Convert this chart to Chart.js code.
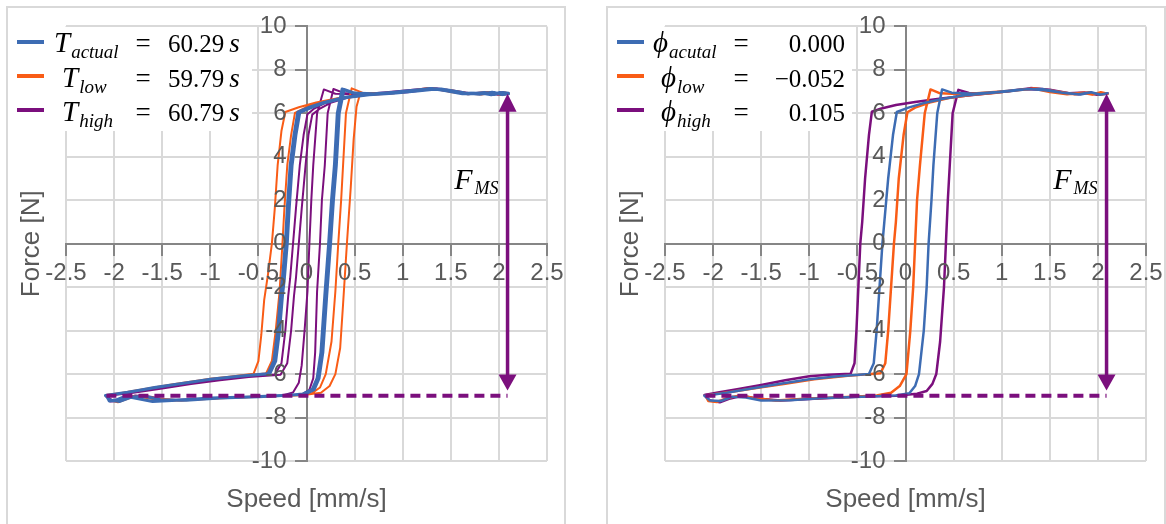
<!DOCTYPE html>
<html>
<head>
<meta charset="utf-8">
<script src="https://cdn.jsdelivr.net/npm/chart.js@4.4.1/dist/chart.umd.min.js"></script>
<style>
  body { margin: 0; background: #fff; }
  .panel { position: absolute; top: 6px; width: 556px; height: 540px; border: 2px solid #d9d9d9; }
  canvas { position: absolute; top: 3px; }
</style>
</head>
<body>
<div class="panel" style="left:6px"></div>
<div class="panel" style="left:606px"></div>
<canvas id="periodChart" width="562" height="521" style="left:8px"></canvas>
<canvas id="phaseChart" width="562" height="521" style="left:607px"></canvas>
<script>
const speedTicks = [-2.5, -2, -1.5, -1, -0.5, 0, 0.5, 1, 1.5, 2, 2.5];
const forceTicks = [-10, -8, -6, -4, -2, 0, 2, 4, 6, 8, 10];
const seriesColors = ['#3d6cb3', '#f95c16', '#7b0f7d'];

const periodSubs = ['actual', 'low', 'high'];
const periodValues = ['60.29', '59.79', '60.79'];
const phaseSubs = ['acutal', 'low', 'high'];
const phaseValues = ['0.000', '\u22120.052', '0.105'];

// F_MS marker and the dashed floor line
const fmsSpeed = 2.09;
const fmsTop = 6.9;
const fmsBottom = -6.75;
const fmsLabelForce = 2.5;
const floorSpeed = [-2.08, 2.09];
const floorForce = [-7.0, -7.0];

// [speed, force] - period sweep, two cycles per curve
const periodActual = [
  [2.10,6.90],[2.01,6.96],[1.92,6.85],[1.80,6.94],[1.62,6.90],[1.45,7.04],[1.30,7.14],[1.10,7.04],[0.88,6.93],[0.62,6.86],
  [0.40,6.74],[0.18,6.50],[0.03,6.28],[-0.09,6.06],[-0.13,5.00],[-0.17,3.60],[-0.20,1.60],[-0.22,0.00],[-0.25,-1.60],[-0.27,-2.40],
  [-0.30,-4.00],[-0.34,-5.40],[-0.40,-5.98],[-0.70,-6.10],[-1.00,-6.24],[-1.30,-6.44],[-1.60,-6.64],[-1.86,-6.84],[-2.09,-6.98],
  [-2.04,-7.20],[-1.94,-7.26],[-1.82,-7.06],[-1.68,-7.02],[-1.52,-7.18],[-1.25,-7.20],[-0.90,-7.10],[-0.50,-7.04],[-0.20,-6.98],
  [-0.04,-6.92],[0.06,-6.70],[0.11,-6.20],[0.15,-5.00],[0.19,-2.40],[0.23,0.00],[0.26,2.00],[0.29,3.60],[0.32,6.00],[0.37,7.12],
  [0.48,6.94],[0.70,6.90],[0.95,6.98],[1.20,7.10],[1.40,7.12],[1.62,6.95],[1.80,6.88],[1.93,6.97],[2.03,6.87],[2.10,6.92],
  [2.04,6.96],[1.95,6.87],[1.85,6.96],[1.68,6.89],[1.50,7.00],[1.35,7.12],[1.15,7.03],[0.90,6.92],[0.65,6.85],[0.42,6.73],
  [0.20,6.50],[0.05,6.26],[-0.07,6.04],[-0.11,5.00],[-0.15,3.60],[-0.18,1.60],[-0.20,0.00],[-0.23,-1.60],[-0.25,-2.40],[-0.28,-4.00],
  [-0.32,-5.40],[-0.38,-5.97],[-0.68,-6.09],[-0.98,-6.23],[-1.28,-6.42],[-1.58,-6.62],[-1.85,-6.83],[-2.08,-6.99],[-2.05,-7.24],
  [-1.97,-7.18],[-1.88,-7.02],[-1.76,-7.12],[-1.60,-7.26],[-1.35,-7.20],[-1.00,-7.10],[-0.60,-7.05],[-0.25,-6.99],[-0.02,-6.93],
  [0.08,-6.72],[0.13,-6.20],[0.17,-5.00],[0.21,-2.40],[0.25,0.00],[0.28,2.00],[0.31,3.60],[0.34,6.00],[0.39,7.10],[0.50,6.93],
  [0.72,6.88],[0.98,7.00],[1.25,7.12],[1.45,7.08],[1.65,6.94],[1.82,6.90],[1.95,6.96],[2.04,6.86],[2.10,6.90]
];
const periodLow = [
  [2.10,6.92],[2.02,6.85],[1.93,6.97],[1.82,6.87],[1.65,6.93],[1.45,7.06],[1.28,7.12],[1.08,7.00],[0.85,6.90],[0.60,6.84],
  [0.35,6.72],[0.10,6.50],[-0.08,6.28],[-0.22,6.06],[-0.26,5.20],[-0.30,3.60],[-0.33,1.60],[-0.36,0.00],[-0.40,-1.40],[-0.44,-2.60],
  [-0.47,-4.20],[-0.50,-5.40],[-0.55,-5.98],[-0.80,-6.12],[-1.10,-6.28],[-1.40,-6.48],[-1.65,-6.66],[-1.88,-6.84],[-2.09,-7.00],
  [-2.03,-7.24],[-1.92,-7.22],[-1.80,-7.02],[-1.66,-7.10],[-1.48,-7.24],[-1.20,-7.18],[-0.85,-7.08],[-0.45,-7.03],[-0.05,-6.97],
  [0.15,-6.86],[0.24,-6.55],[0.30,-6.00],[0.35,-4.80],[0.38,-2.80],[0.42,0.00],[0.46,2.60],[0.49,4.80],[0.52,6.30],[0.56,6.95],
  [0.75,6.92],[1.00,6.98],[1.25,7.16],[1.50,7.06],[1.70,6.90],[1.88,6.98],[2.00,6.86],[2.10,6.92],
  [2.04,6.97],[1.95,6.86],[1.84,6.95],[1.68,6.88],[1.50,6.98],[1.33,7.14],[1.15,7.06],[0.90,6.94],[0.65,6.86],[0.40,6.72],
  [0.18,6.50],[0.00,6.28],[-0.12,6.02],[-0.16,5.00],[-0.20,3.60],[-0.23,1.60],[-0.25,0.00],[-0.28,-2.20],[-0.32,-4.00],[-0.36,-5.40],
  [-0.42,-5.97],[-0.70,-6.08],[-1.00,-6.22],[-1.30,-6.42],[-1.58,-6.62],[-1.85,-6.82],[-2.08,-6.96],[-2.05,-7.18],[-1.96,-7.30],
  [-1.84,-7.10],[-1.70,-6.98],[-1.55,-7.12],[-1.30,-7.22],[-0.95,-7.12],[-0.55,-7.05],[-0.15,-6.99],[0.05,-6.90],[0.14,-6.62],
  [0.20,-6.00],[0.26,-4.50],[0.30,-2.20],[0.33,0.00],[0.36,2.00],[0.38,3.60],[0.41,6.00],[0.47,7.15],[0.58,6.95],[0.80,6.90],
  [1.05,7.02],[1.35,7.12],[1.58,6.96],[1.78,6.88],[1.92,6.97],[2.02,6.86],[2.10,6.90]
];
const periodHigh = [
  [2.10,6.90],[2.02,6.84],[1.92,6.96],[1.80,6.90],[1.62,6.96],[1.42,7.10],[1.25,7.08],[1.05,6.97],[0.80,6.90],[0.55,6.82],
  [0.35,6.70],[0.18,6.45],[0.08,6.22],[0.01,5.96],[-0.03,5.00],[-0.07,3.60],[-0.11,1.60],[-0.14,0.00],[-0.17,-1.60],[-0.19,-2.40],
  [-0.22,-4.00],[-0.26,-5.50],[-0.33,-6.02],[-0.65,-6.12],[-0.95,-6.26],[-1.25,-6.45],[-1.55,-6.66],[-1.84,-6.86],[-2.08,-7.02],
  [-2.02,-7.20],[-1.90,-7.14],[-1.78,-6.98],[-1.62,-7.04],[-1.45,-7.20],[-1.15,-7.16],[-0.80,-7.08],[-0.45,-7.03],[-0.25,-6.98],
  [-0.14,-6.85],[-0.08,-6.40],[-0.05,-5.60],[-0.02,-4.00],[0.01,-2.20],[0.03,0.00],[0.05,2.00],[0.07,3.60],[0.11,6.00],[0.18,7.10],
  [0.30,6.90],[0.55,6.88],[0.80,6.96],[1.05,7.06],[1.30,7.16],[1.50,7.06],[1.70,6.92],[1.86,6.96],[1.98,6.86],[2.10,6.92],
  [2.03,6.97],[1.94,6.86],[1.83,6.95],[1.65,6.90],[1.48,7.02],[1.32,7.12],[1.12,7.02],[0.88,6.92],[0.62,6.84],[0.42,6.72],
  [0.25,6.48],[0.14,6.22],[0.06,5.94],[0.02,5.00],[-0.01,3.60],[-0.05,1.60],[-0.08,0.00],[-0.11,-1.60],[-0.13,-2.40],[-0.16,-4.00],
  [-0.20,-5.50],[-0.27,-6.03],[-0.60,-6.14],[-0.90,-6.28],[-1.20,-6.46],[-1.50,-6.66],[-1.80,-6.86],[-2.07,-7.00],[-2.04,-7.26],
  [-1.94,-7.24],[-1.83,-7.06],[-1.70,-7.00],[-1.55,-7.16],[-1.30,-7.20],[-0.95,-7.10],[-0.60,-7.05],[-0.25,-7.00],[-0.05,-6.94],
  [0.03,-6.72],[0.07,-6.20],[0.09,-5.00],[0.11,-2.20],[0.14,0.00],[0.16,2.00],[0.19,3.60],[0.22,6.00],[0.28,7.12],[0.40,6.92],
  [0.62,6.88],[0.88,6.98],[1.12,7.08],[1.36,7.14],[1.56,7.02],[1.74,6.90],[1.90,6.97],[2.02,6.87],[2.10,6.91]
];

// [speed, force] - phase sweep, one cycle per curve
const phaseActual = [
  [2.10,6.92],[2.02,6.85],[1.93,6.97],[1.82,6.87],[1.65,6.94],[1.45,7.06],[1.28,7.12],[1.08,7.02],[0.85,6.92],[0.60,6.82],
  [0.38,6.66],[0.18,6.46],[0.03,6.26],[-0.09,6.06],[-0.13,5.00],[-0.18,3.00],[-0.22,1.00],[-0.24,0.00],[-0.27,-2.00],[-0.30,-4.00],
  [-0.33,-5.50],[-0.38,-6.00],[-0.70,-6.10],[-1.00,-6.24],[-1.30,-6.44],[-1.60,-6.66],[-1.86,-6.86],[-2.09,-7.00],[-2.03,-7.22],
  [-1.92,-7.24],[-1.80,-7.04],[-1.66,-7.08],[-1.50,-7.22],[-1.20,-7.20],[-0.85,-7.10],[-0.45,-7.04],[-0.10,-6.98],[0.04,-6.88],
  [0.10,-6.55],[0.14,-6.00],[0.19,-4.00],[0.22,-2.00],[0.24,0.00],[0.27,2.00],[0.29,3.60],[0.33,6.00],[0.38,7.10],[0.48,6.95],
  [0.70,6.90],[0.95,6.98],[1.20,7.10],[1.42,7.12],[1.62,6.96],[1.80,6.88],[1.93,6.97],[2.03,6.86],[2.10,6.92]
];
const phaseLow = [
  [2.10,6.90],[2.03,6.97],[1.94,6.86],[1.84,6.95],[1.68,6.88],[1.50,6.98],[1.33,7.14],[1.15,7.06],[0.92,6.94],[0.68,6.84],
  [0.45,6.70],[0.25,6.50],[0.10,6.26],[0.02,6.05],[-0.02,5.00],[-0.07,3.00],[-0.10,1.00],[-0.12,0.00],[-0.15,-2.00],[-0.18,-4.00],
  [-0.21,-5.50],[-0.26,-5.96],[-0.60,-6.08],[-0.95,-6.24],[-1.25,-6.44],[-1.55,-6.64],[-1.84,-6.84],[-2.08,-6.98],[-2.05,-7.24],
  [-1.96,-7.28],[-1.85,-7.10],[-1.72,-6.98],[-1.58,-7.10],[-1.35,-7.22],[-1.00,-7.12],[-0.60,-7.05],[-0.30,-6.98],[-0.15,-6.86],
  [-0.06,-6.55],[0.01,-6.00],[0.05,-4.00],[0.08,-2.00],[0.10,0.00],[0.12,2.00],[0.15,3.60],[0.20,6.00],[0.26,7.10],[0.36,6.92],
  [0.60,6.88],[0.85,6.96],[1.10,7.04],[1.35,7.14],[1.56,7.02],[1.76,6.88],[1.90,6.96],[2.02,6.86],[2.10,6.91]
];
const phaseHigh = [
  [2.10,6.92],[2.01,6.85],[1.92,6.96],[1.80,6.88],[1.62,6.95],[1.42,7.08],[1.24,7.12],[1.04,7.00],[0.82,6.90],[0.60,6.80],
  [0.35,6.67],[0.10,6.52],[-0.10,6.38],[-0.25,6.22],[-0.35,6.07],[-0.38,5.00],[-0.42,3.00],[-0.45,1.00],[-0.47,0.00],[-0.49,-2.00],
  [-0.51,-4.00],[-0.53,-5.50],[-0.57,-5.98],[-0.80,-6.03],[-1.00,-6.10],[-1.25,-6.28],[-1.50,-6.50],[-1.75,-6.70],[-1.95,-6.85],
  [-2.09,-6.96],[-2.04,-7.20],[-1.93,-7.30],[-1.82,-7.12],[-1.70,-7.00],[-1.55,-7.12],[-1.30,-7.22],[-0.95,-7.14],[-0.50,-7.04],
  [-0.10,-7.00],[0.12,-6.90],[0.22,-6.78],[0.28,-6.45],[0.32,-6.00],[0.36,-4.50],[0.40,-2.00],[0.42,0.00],[0.44,2.00],[0.46,3.60],
  [0.49,6.00],[0.55,7.08],[0.66,6.94],[0.85,6.92],[1.05,7.00],[1.30,7.16],[1.50,7.08],[1.70,6.92],[1.86,6.96],[1.98,6.86],[2.10,6.90]
];

const serif = '"Liberation Serif", "DejaVu Serif", serif';
Chart.defaults.font.family = '"Liberation Sans", Arial, sans-serif';

// axis titles sit outside the plot like the spreadsheet ones
const axisTitles = {
  id: 'axisTitles',
  afterDraw(chart) {
    const {ctx, chartArea: a} = chart;
    ctx.save();
    ctx.fillStyle = '#595959';
    ctx.font = '26px "Liberation Sans", Arial, sans-serif';
    ctx.textAlign = 'center';
    ctx.textBaseline = 'middle';
    ctx.fillText('Speed [mm/s]', (a.left + a.right) / 2, 497);
    ctx.translate(24, (a.top + a.bottom) / 2);
    ctx.rotate(-Math.PI / 2);
    ctx.fillText('Force [N]', 0, 0);
    ctx.restore();
  }
};

// legend with subscripts, drawn by hand
const loopLegend = {
  id: 'loopLegend',
  afterDraw(chart, args, o) {
    const ctx = chart.ctx;
    ctx.save();
    ctx.fillStyle = '#fff';
    ctx.fillRect(o.boxLeft, 24, 242, 104);
    o.subs.forEach((sub, i) => {
      const lineY = 39 + i * 34;
      const base = 49 + i * 34.5;
      ctx.strokeStyle = seriesColors[i];
      ctx.lineWidth = 4;
      ctx.beginPath();
      ctx.moveTo(o.boxLeft + 7, lineY);
      ctx.lineTo(o.boxLeft + 34, lineY);
      ctx.stroke();

      ctx.fillStyle = '#000';
      ctx.textBaseline = 'alphabetic';
      ctx.textAlign = 'left';
      const sx = i === 0 ? 46 : 54;
      ctx.font = 'italic 29px ' + serif;
      ctx.fillText(o.symbol, sx, base);
      const w = ctx.measureText(o.symbol).width;
      ctx.font = 'italic 19px ' + serif;
      ctx.fillText(sub, sx + w + 1, base + 6);

      ctx.font = '27px ' + serif;
      ctx.textAlign = 'center';
      ctx.fillText('=', o.eqX, base);

      ctx.font = '25px ' + serif;
      if (o.unit) {
        ctx.textAlign = 'left';
        ctx.fillText(o.values[i], o.valueX, base);
        const vw = ctx.measureText(o.values[i]).width;
        ctx.font = 'italic 27px ' + serif;
        ctx.fillText(o.unit, o.valueX + vw + 5, base);
      } else {
        ctx.textAlign = 'right';
        ctx.fillText(o.values[i], o.valueX, base);
      }
    });
    ctx.restore();
  }
};

// double arrow for F_MS, placed with the chart scales
const fmsArrow = {
  id: 'fmsArrow',
  afterDatasetsDraw(chart) {
    const {ctx, scales: {x, y}} = chart;
    const px = x.getPixelForValue(fmsSpeed);
    const top = y.getPixelForValue(fmsTop);
    const bottom = y.getPixelForValue(fmsBottom);
    ctx.save();
    ctx.strokeStyle = ctx.fillStyle = seriesColors[2];
    ctx.lineWidth = 3.5;
    ctx.beginPath();
    ctx.moveTo(px, top + 12);
    ctx.lineTo(px, bottom - 12);
    ctx.stroke();
    ctx.beginPath();
    ctx.moveTo(px, top);
    ctx.lineTo(px - 9, top + 18);
    ctx.lineTo(px + 9, top + 18);
    ctx.closePath();
    ctx.fill();
    ctx.beginPath();
    ctx.moveTo(px, bottom);
    ctx.lineTo(px - 9, bottom - 16);
    ctx.lineTo(px + 9, bottom - 16);
    ctx.closePath();
    ctx.fill();

    const ly = y.getPixelForValue(fmsLabelForce);
    ctx.fillStyle = '#000';
    ctx.textAlign = 'right';
    ctx.textBaseline = 'alphabetic';
    ctx.font = 'italic 18px ' + serif;
    const subW = ctx.measureText('MS').width;
    ctx.fillText('MS', px - 9, ly + 5);
    ctx.font = 'italic 30px ' + serif;
    ctx.fillText('F', px - 11 - subW, ly);
    ctx.restore();
  }
};

function axisOptions(tickList, padding) {
  return {
    type: 'linear',
    position: 'center',
    min: tickList[0],
    max: tickList[tickList.length - 1],
    afterBuildTicks: s => { s.ticks = tickList.map(v => ({value: v})); },
    grid: {color: '#d9d9d9', lineWidth: 2, tickColor: '#868686', tickWidth: 2, tickLength: 11, z: -1},
    border: {color: '#868686', width: 2, z: 0},
    ticks: {
      color: '#595959', font: {size: 24}, padding: padding,
      autoSkip: false, maxRotation: 0, minRotation: 0, z: 1,
      callback: v => String(v)
    }
  };
}

function makeChart(id, loops, widths, legend) {
  const datasets = [{
    data: floorSpeed.map((s, i) => ({x: s, y: floorForce[i]})),
    borderColor: seriesColors[2],
    borderWidth: 4,
    borderDash: [10, 6]
  }];
  loops.forEach((loop, i) => {
    datasets.push({
      data: loop.map(p => ({x: p[0], y: p[1]})),
      borderColor: seriesColors[i],
      borderWidth: widths[i],
      borderJoinStyle: 'round',
      borderCapStyle: 'round'
    });
  });
  datasets.forEach(d => { d.showLine = true; d.pointRadius = 0; d.pointHoverRadius = 0; d.tension = 0; });

  return new Chart(document.getElementById(id), {
    type: 'scatter',
    data: {datasets: datasets},
    options: {
      responsive: false,
      animation: false,
      devicePixelRatio: 1,
      events: [],
      layout: {padding: {left: 58, right: 23, top: 22, bottom: 63}},
      scales: {
        x: axisOptions(speedTicks, 4),
        y: axisOptions(forceTicks, 9)
      },
      plugins: {
        legend: {display: false},
        tooltip: {enabled: false},
        loopLegend: legend
      }
    },
    plugins: [axisTitles, fmsArrow, loopLegend]
  });
}

makeChart('periodChart', [periodActual, periodLow, periodHigh], [3, 2, 2],
  {symbol: 'T', subs: periodSubs, values: periodValues, unit: 's', boxLeft: 2, eqX: 135, valueX: 160});
makeChart('phaseChart', [phaseActual, phaseLow, phaseHigh], [2.5, 2.5, 2.5],
  {symbol: '\u03d5', subs: phaseSubs, values: phaseValues, unit: '', boxLeft: 3, eqX: 134, valueX: 238});
</script>
</body>
</html>
